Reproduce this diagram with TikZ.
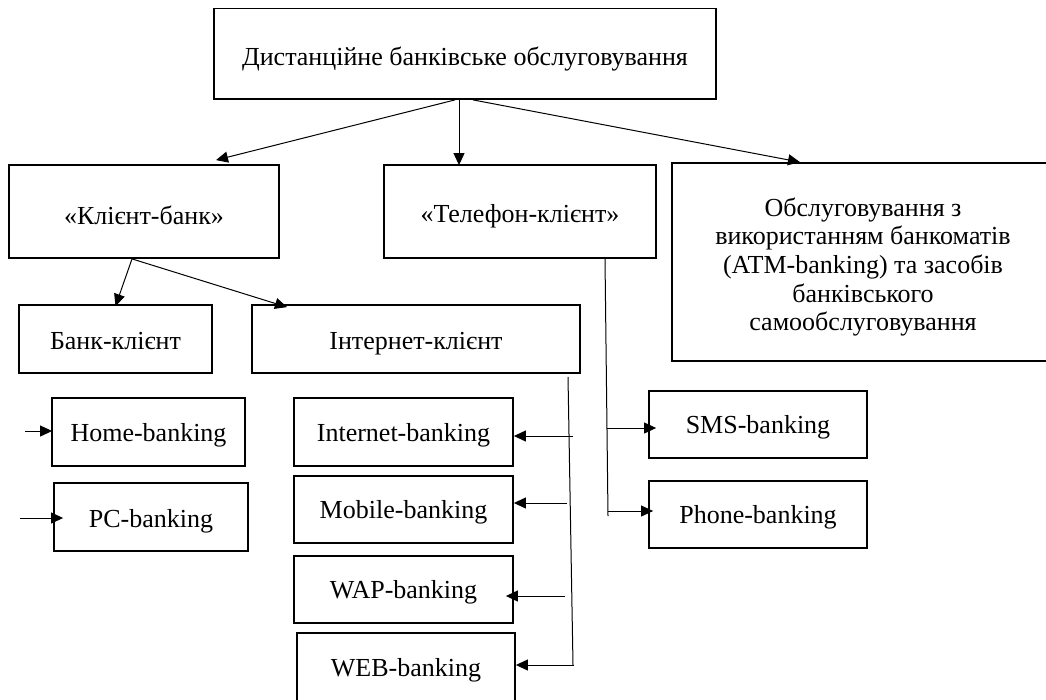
\documentclass[tikz,border=0pt]{standalone}
\usepackage{fontspec}
\setmainfont{Liberation Serif}
\usetikzlibrary{arrows.meta}
\begin{document}
\begin{tikzpicture}[x=1pt,y=-1pt,
  txt/.style={font=\fontsize{26}{28.6}\selectfont},
  box/.style={draw, line width=1.8pt, inner sep=0pt, txt, text height=24pt, text depth=6pt},
  conn/.style={line width=1pt},
  arr/.style={conn, -{Triangle[length=12pt,width=11pt]}}]
\fill[white] (0,0) rectangle (1046,699);
\useasboundingbox (0,0) rectangle (1046,699);
% boxes
\node[box, minimum width=502pt, minimum height=90.5pt, text height=30pt] (top) at (465,53.75) {Дистанційне банківське обслуговування};
\node[box, minimum width=270pt, minimum height=93pt, text height=31pt] (klient) at (144,211.5) {«Клієнт-банк»};
\node[box, minimum width=272pt, minimum height=93pt, text height=27pt] (tel) at (520,211.5) {«Телефон-клієнт»};
\node[draw, line width=1.8pt, minimum width=382pt, minimum height=198pt] (atm) at (863,262) {};
\node[txt, align=center, inner sep=0pt] (atmtext) at (863,267) {Обслуговування з\\використанням банкоматів\\(ATM-banking) та засобів\\банківського\\самообслуговування};
\node[box, minimum width=193pt, minimum height=68pt, text height=26pt] (bk) at (115.5,339) {Банк-клієнт};
\node[box, minimum width=328pt, minimum height=68pt, text height=26pt] (ik) at (416,339) {Інтернет-клієнт};
\node[box, minimum width=193pt, minimum height=68pt] (home) at (148.5,432) {Home-banking};
\node[box, minimum width=194pt, minimum height=68pt, text height=26pt] (pc) at (151,517) {PC-banking};
\node[box, minimum width=219pt, minimum height=68pt] (inet) at (403.5,432) {Internet-banking};
\node[box, minimum width=219pt, minimum height=67pt] (mob) at (403.5,509.5) {Mobile-banking};
\node[box, minimum width=219pt, minimum height=67pt] (wap) at (403.5,589.5) {WAP-banking};
\node[box, minimum width=218pt, minimum height=69pt] (web) at (406,667.5) {WEB-banking};
\node[box, minimum width=218pt, minimum height=67pt] (sms) at (758,424.5) {SMS-banking};
\node[box, minimum width=218pt, minimum height=67pt] (phone) at (758,514.5) {Phone-banking};
% top level connectors
\draw[arr] ([xshift=-10pt]top.south) -- ([xshift=72pt,yshift=4pt]klient.north);
\draw[arr] ([xshift=-6pt]top.south) -- ([xshift=-61pt,yshift=-1pt]tel.north);
\draw[arr] ([xshift=8pt]top.south) -- ([xshift=-63pt]atm.north);
% client-bank
\draw[arr] ([xshift=-12pt]klient.south) -- ([yshift=-2pt]bk.north);
\draw[arr] ([xshift=-12pt]klient.south) -- ([xshift=-129pt,yshift=-3pt]ik.north);
% free arrows
\coordinate (hs) at (25,431);
\coordinate (ps) at (20,518);
\draw[arr] (hs) -- ([xshift=1pt,yshift=1pt]home.west);
\draw[arr] (ps) -- ([xshift=10pt,yshift=-1pt]pc.west);
% telephone branch
\coordinate (tb1) at (607,428);
\coordinate (tb2) at (608,511);
\coordinate (tend) at (608,516);
\draw[conn] ([xshift=85pt]tel.south) -- (tend);
\draw[arr] (tb1) -- ([xshift=8pt,yshift=-3.5pt]sms.west);
\draw[arr] (tb2) -- ([xshift=5pt,yshift=3.5pt]phone.west);
% internet branch
\coordinate (iend) at (573,665);
\coordinate (ib1) at (573,436);
\coordinate (ib2) at (567,503);
\coordinate (ib3) at (565,596);
\coordinate (ib4) at (574,665);
\draw[conn] ([xshift=152pt,yshift=-3pt]ik.south) -- (iend);
\draw[arr] (ib1) -- ([yshift=-4pt]inet.east);
\draw[arr] (ib2) -- ([yshift=6.5pt]mob.east);
\draw[arr] (ib3) -- ([xshift=-8pt,yshift=-6.5pt]wap.east);
\draw[arr] (ib4) -- ([yshift=2.5pt]web.east);
\end{tikzpicture}
\end{document}
